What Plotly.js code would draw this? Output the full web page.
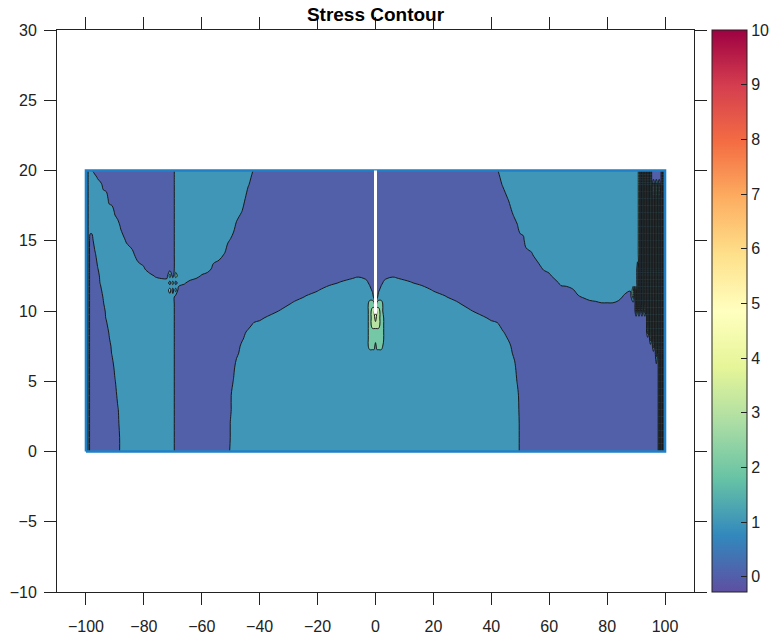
<!DOCTYPE html>
<html>
<head>
<meta charset="utf-8">
<script src="https://cdn.plot.ly/plotly-3.0.1.min.js"></script>
<style>
  html, body { margin: 0; padding: 0; background: #fff; }
  #chart { width: 777px; height: 640px; }
</style>
</head>
<body>
<div id="chart"></div>
<script>
// Grid nodes of the stress field over the plate (x across, y up)
const xNodes = [
  -100, -99.5, -99, -98.5, -98, -97, -96,
  -95, -94, -93, -92, -91, -90, -89, -88,
  -86, -84, -82, -80, -78, -76, -74, -72,
  -71, -70, -69, -68,
  -66, -64, -62, -60, -58, -56, -54, -52, -51, -50, -49, -48, -46, -44, -42, -40,
  -36, -32, -28, -24, -20, -16, -12, -8, -6, -4,
  -3, -2, -1, -0.5, 0, 0.5, 1, 2, 3, 4,
  6, 8, 12, 16, 20, 24, 28, 32, 36, 40,
  42, 44, 46, 48, 49, 50, 51, 52,
  54, 56, 58, 60, 62, 64, 66, 68, 70, 72, 74, 76, 78, 80, 82, 84, 86, 88,
  89, 89.5, 90, 90.5, 91, 91.5, 92, 92.5, 93, 93.5, 94, 94.5, 95, 95.5, 96, 96.5, 97, 97.5, 98, 98.5, 99, 99.5, 100
];
const yNodes = [0, 1, 2, 3, 4, 5, 6, 7, 7.5, 8, 8.5, 9, 9.5, 10, 10.5, 11, 11.5, 12, 12.5, 13, 14, 15, 16, 17, 18, 19, 19.5, 20];

// Stress value at each node, one row per yNodes entry (bottom to top).
// A token is a letter with an optional repeat count.
const nodeValue = { p: 0, a: 0.2, b: 0.4, n: 0.6, m: 0.8, t: 1, h: 1.4, g: 2, y: 3, e: 4, f: 5 };
const stressRows = [
  "tptp4 p7m t8 t2p2 p9mt6 t10 t10 t10 t5ap2 p18 p18gpgp2",
  "tptp4 p7m t8 t2p2 p9nt6 t10 t10 t10 t5ap2 p18 p18gpgp2",
  "tptp4 p6at t8 t2p2 p9nt6 t10 t10 t10 t5ap2 p18 p18gpgp2",
  "tptp4 p6bt t8 t2p2 p9bt6 t10 t10 t10 t5p3 p18 p18gpgp2",
  "tptp4 p6mt t8 t2p2 p9bt6 t10 t10 t10 t4mp3 p18 p18gpgp2",
  "tptp4 p5bt2 t8 t2p2 p10nt5 t10 t10 t10 t4bp3 p18 p18gpgp2",
  "tptp4 p5mt2 t8 t2p2 p10at5 t10 t10 t10 t3mp4 p18 p18gpgp2",
  "tptp4 p4nt3 t8 t2p2 p11at4 t10 t10 t10 t3ap4 p18 p16gpgpgp2",
  "tptp4 p4mt3 t8 t2p2 p12mt3 t10 tg3tg3t2 t10 t2mp5 p18 p14gpgpgpgp2",
  "tptp4 p3bt4 t8 t2p2 p12bt3 t10 tg7ht t10 t2bp5 p18 p12gpgpgpgpgp2",
  "tptp4 p3nt4 t8 t2p2 p13mt2 t10 tg7ht t10 tnp6 p18 p10gpgpgpgpgpgp2",
  "tptp4 p2at5 t8 t2p2 p14mt t10 tgy5ght t10 mp7 p18 p10gpgpgpgpgpgp2",
  "tptp4 p2nt5 t8 t2p2 p15a t10 tgy2ey2ght t9a p8 p18 p10gpgpgpgpgpgp2",
  "tptp4 p2mt5 t8 t2p2 p16 pmt8 tgy2fy2gt2 t7mp2 p8 p18 p2gpgpgpgpgpgpgpgpgpgp2",
  "tptp4 pbt6 t8 t2p2 p16 p2mt7 tg3pg3t2 t6mp3 p8 p11ab3p3 p2gpgpgpgpgpgpgpgpgpgp2",
  "tptp4 pnt6 t8 t2p2 p16 p3nt6 t3p3t4 t5np4 p8 p8bnt6ap gpgpgpgpgpgpgpgpgpgpgp2",
  "tptp4 at7 t8 gpgp p16 p4bt5 t2ap3at3 t4bp5 p8 p7bmt8n gpgpgpgpgpgpgpgpgpgpgp2",
  "tptp4 nt7 t8 pgpt nap14 p5ant3 map5amt t2nap6 p8 p5mt12 t3pgpgpgpgpgpgpgpgpgp2",
  "tptp4 mt7 t4mba2 gpgt t2mbp12 p7aba p9a bap8 p8 p3at14 t3pgpgpgpgpgpgpgpgpgp2",
  "tptp3b t8 t3np4 p2t2 t5ap10 p10 p10 p10 p8 p2nt15 t3pgpgpgpgpgpgpgpgpgp2",
  "tptp2at t8 tmp6 p2t2 t6mbp8 p10 p10 p10 p8 bt17 t4gpgpgpgpgpgpgpgpgp2",
  "tptp2t2 t8 bp7 p2t2 t8nbp6 p10 p10 p10 p6at t18 t4gpgpgpgpgpgpgpgpgp2",
  "tpt5 t7b p8 p2t2 t10map4 p10 p10 p10 p4bt3 t18 t4gpgpgpgpgpgpgpgpgp2",
  "tpt5 t5bp2 p8 p2t2 t12bp3 p10 p10 p10 p3mt4 t18 t4gpgpgpgpgpgpgpgpgp2",
  "tpt5 t3ap4 p8 p2t2 t13p3 p10 p10 p10 p2nt5 t18 t4gpgpgpgpgpgpgpgpgp2",
  "tpt5 map6 p8 p2t2 t13np2 p10 p10 p10 pnt6 t18 t4gpgpgpgpgpgpgpgpgp2",
  "tpt4b p8 p8 p2t2 t14p2 p10 p10 p10 pt7 t18 t4gpgpgpgpgp7gp2",
  "tpt2np2 p8 p8 p2t2 t14bp p10 p10 p10 bt7 t18 t4gpgpgpgpgp7gp2"
];

// Colour bar range and ticks
const barMin = -0.28;
const barMax = 10;
const barTicks = [0, 1, 2, 3, 4, 5, 6, 7, 8, 9, 10];

// Plate outline and crack
const plateX = [-100, 100, 100, -100, -100];
const plateY = [0, 0, 20, 20, 0];
const crackX = [0, 0];
const crackY = [9.8, 20];

// Axis ticks
const xTicks = [-100, -80, -60, -40, -20, 0, 20, 40, 60, 80, 100];
const yTicks = [-10, -5, 0, 5, 10, 15, 20, 25, 30];

function expandRow(row, i) {
  const out = [];
  row.replace(/([a-z])(\d*)/g, function (m, c, n) {
    const k = n ? parseInt(n, 10) : 1;
    for (let j = 0; j < k; j++) out.push(nodeValue[c]);
    return m;
  });
  if (out.length !== xNodes.length) {
    throw new Error('stress row ' + i + ' has ' + out.length + ' nodes');
  }
  return out;
}
const stress = stressRows.map(expandRow);
if (stress.length !== yNodes.length) throw new Error('row count ' + stress.length);

// Spectral (reversed) colour map
const spectral = ['#5e4fa2', '#3288bd', '#66c2a5', '#abdda4', '#e6f598', '#ffffbf',
                  '#fee08b', '#fdae61', '#f46d43', '#d53e4f', '#9e0142'];
const barScale = spectral.map(function (c, i) { return [i / (spectral.length - 1), c]; });

function hexRgb(h) { return [1, 3, 5].map(function (i) { return parseInt(h.slice(i, i + 2), 16); }); }
function colourAt(v) {
  const s = Math.min(1, Math.max(0, (v - barMin) / (barMax - barMin))) * (spectral.length - 1);
  const i = Math.min(spectral.length - 2, Math.floor(s));
  const t = s - i;
  const a = hexRgb(spectral[i]), b = hexRgb(spectral[i + 1]);
  return 'rgb(' + a.map(function (c, k) { return Math.round(c + (b[k] - c) * t); }).join(',') + ')';
}

// Levels at 0.5, 1.5, ... so each filled band is centred on a whole value;
// the fill scale spans [0, 10] and takes its colours from the bar scale.
const fillScale = [];
for (let k = 0; k <= 20; k++) fillScale.push([k / 20, colourAt(k / 2)]);

const axisStyle = {
  ticks: 'outside', ticklen: 12, tickwidth: 1, tickcolor: '#222',
  showline: true, linecolor: '#222', linewidth: 1, mirror: 'ticks',
  showgrid: false, zeroline: false, fixedrange: true,
  tickfont: { size: 16, color: '#222' }
};

const data = [
  {
    type: 'contour',
    x: xNodes, y: yNodes, z: stress,
    colorscale: fillScale,
    contours: { start: 0.5, end: 9.5, size: 1, coloring: 'fill', showlines: true },
    line: { color: '#1a1a1a', width: 1, smoothing: 1.1 },
    showscale: false,
    hoverinfo: 'skip'
  },
  {
    type: 'scatter', mode: 'lines',
    x: plateX, y: plateY,
    line: { color: '#1f80c8', width: 2.5 },
    hoverinfo: 'skip'
  },
  {
    type: 'scatter', mode: 'lines',
    x: crackX, y: crackY,
    line: { color: '#ffffff', width: 3 },
    hoverinfo: 'skip'
  },
  {
    type: 'scatter', mode: 'markers',
    x: [null], y: [null],
    marker: {
      color: [barMin], cmin: barMin, cmax: barMax,
      colorscale: barScale, showscale: true,
      colorbar: {
        x: 1.0283, xanchor: 'left', xref: 'paper', xpad: 0,
        y: 0.5, yanchor: 'middle', len: 1, lenmode: 'fraction', ypad: 0,
        thickness: 35, thicknessmode: 'pixels',
        outlinewidth: 1, outlinecolor: '#222', borderwidth: 0,
        ticks: 'inside', ticklen: 6, tickwidth: 1, tickcolor: '#222',
        tickvals: barTicks, tickfont: { size: 16, color: '#222' }
      }
    },
    hoverinfo: 'skip'
  }
];

const layout = {
  width: 777, height: 640,
  margin: { l: 57, r: 83, t: 30, b: 48, autoexpand: false },
  paper_bgcolor: '#ffffff', plot_bgcolor: '#ffffff',
  showlegend: false,
  font: { family: 'Liberation Sans, Arial, sans-serif', size: 16, color: '#222' },
  title: {
    text: '<b>Stress Contour</b>',
    font: { size: 19, color: '#000' },
    x: 0.5, xref: 'paper', xanchor: 'center',
    y: 0.977, yref: 'container', yanchor: 'middle'
  },
  xaxis: Object.assign({ range: [-110, 110], tickvals: xTicks, ticklabelstandoff: 8 }, axisStyle),
  yaxis: Object.assign({ range: [-10, 30], tickvals: yTicks, ticklabelstandoff: 4 }, axisStyle)
};

Plotly.newPlot('chart', data, layout, { displayModeBar: false, staticPlot: true });
</script>
</body>
</html>
